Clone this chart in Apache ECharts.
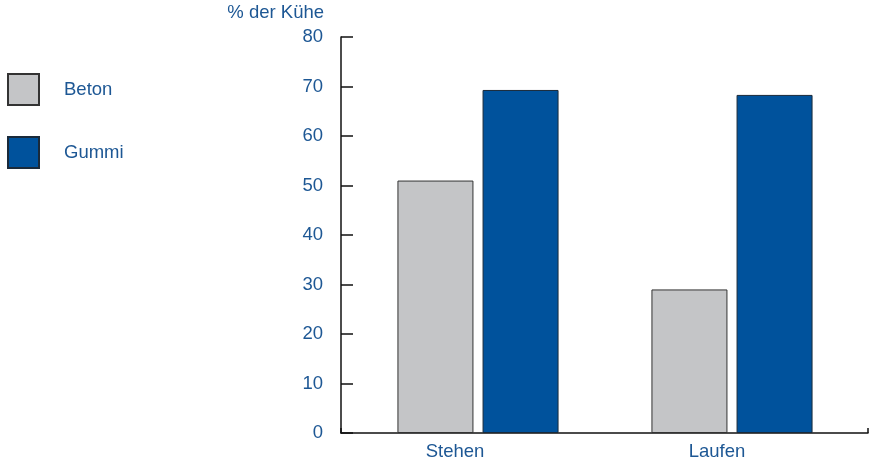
<!DOCTYPE html>
<html>
<head>
<meta charset="utf-8">
<style>
  html, body { margin: 0; padding: 0; background: #fff; }
  #chart { width: 875px; height: 462px; }
</style>
<script src="https://cdn.jsdelivr.net/npm/echarts@6/dist/echarts.min.js"></script>
</head>
<body>
<div id="chart"></div>
<script>
// data
const categories = ['Stehen', 'Laufen']
const beton = [51, 29]
const gummi = [69.3, 68.3]
const seriesNames = ['Beton', 'Gummi']

const textBlue = '#1d5794'
const axisBlack = '#111'
const font = 'Liberation Sans, Arial, sans-serif'

const chart = echarts.init(document.getElementById('chart'))

chart.setOption({
  animation: false,
  textStyle: { fontFamily: font },
  legend: {
    data: seriesNames,
    orient: 'vertical',
    left: 2,
    top: 68,
    itemWidth: 31,
    itemHeight: 31,
    itemGap: 30,
    icon: 'rect',
    textStyle: {
      color: textBlue,
      fontSize: 18.5,
      fontFamily: font,
      padding: [0, 0, 0, 20]
    }
  },
  grid: [
    // axis frame
    { left: 341, right: 7, top: 37, bottom: 29 },
    // bars
    { left: 351, right: 16, top: 37, bottom: 29 }
  ],
  xAxis: [
    {
      gridIndex: 0,
      type: 'value',
      min: 0,
      max: 1,
      interval: 1,
      axisLine: { show: true, lineStyle: { color: axisBlack, width: 1.5 } },
      axisTick: { show: true, inside: true, length: 5, lineStyle: { color: axisBlack, width: 1.5 } },
      axisLabel: { show: false },
      splitLine: { show: false }
    },
    {
      gridIndex: 1,
      type: 'category',
      data: categories,
      axisLine: { show: false },
      axisTick: { show: false },
      axisLabel: {
        margin: 9,
        formatter: (v, i) => '{' + (i === 0 ? 'a' : 'b') + '|' + v + '}',
        rich: {
          a: { color: textBlue, fontSize: 18.5, fontFamily: font, padding: [0, 46, 0, 0] },
          b: { color: textBlue, fontSize: 18.5, fontFamily: font, padding: [0, 30, 0, 0] }
        }
      }
    }
  ],
  yAxis: [
    {
      gridIndex: 0,
      type: 'value',
      min: 0,
      max: 80,
      interval: 10,
      name: '% der Kühe',
      nameLocation: 'end',
      nameGap: 15,
      nameTextStyle: {
        color: textBlue,
        fontSize: 18.5,
        fontFamily: font,
        align: 'right',
        padding: [0, 17, 0, 0]
      },
      axisLine: { show: true, lineStyle: { color: axisBlack, width: 1.5 } },
      axisTick: { show: true, inside: true, length: 12, lineStyle: { color: axisBlack, width: 1.5 } },
      axisLabel: { color: textBlue, fontSize: 18.5, fontFamily: font, margin: 18 },
      splitLine: { show: false }
    },
    {
      gridIndex: 1,
      type: 'value',
      min: 0,
      max: 80,
      show: false
    }
  ],
  series: [
    {
      name: 'Beton',
      type: 'bar',
      xAxisIndex: 1,
      yAxisIndex: 1,
      data: beton,
      barWidth: 76,
      barGap: '12%',
      itemStyle: { color: '#c4c5c7', borderColor: '#333', borderWidth: 1 }
    },
    {
      name: 'Gummi',
      type: 'bar',
      xAxisIndex: 1,
      yAxisIndex: 1,
      data: gummi,
      barWidth: 76,
      barGap: '12%',
      itemStyle: { color: '#00529c', borderColor: '#1a2a3a', borderWidth: 1 }
    }
  ]
})
</script>
</body>
</html>
